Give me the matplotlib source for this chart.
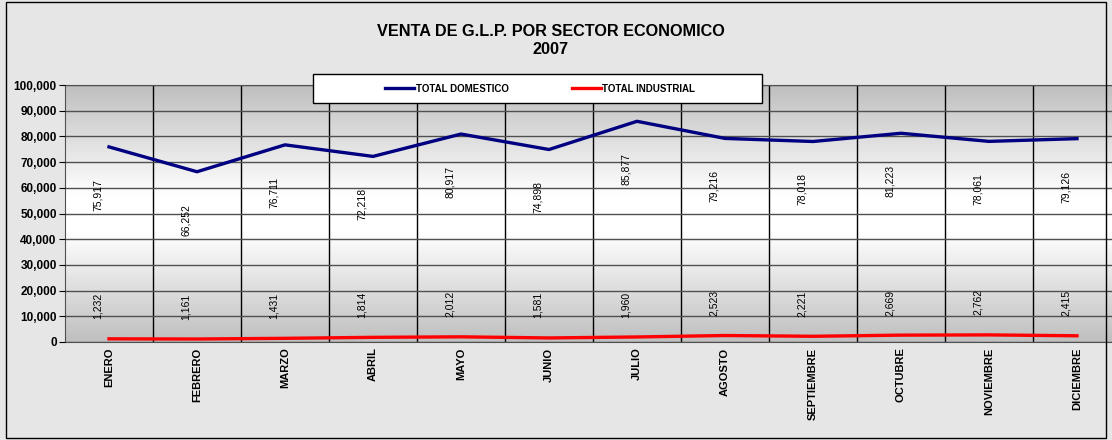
import matplotlib
matplotlib.use('Agg')
import matplotlib.pyplot as plt
import numpy as np
from matplotlib.patches import Rectangle

plt.rcParams['font.family'] = ['Liberation Sans', 'DejaVu Sans']

meses = ["ENERO", "FEBRERO", "MARZO", "ABRIL", "MAYO", "JUNIO", "JULIO",
         "AGOSTO", "SEPTIEMBRE", "OCTUBRE", "NOVIEMBRE", "DICIEMBRE"]
domestico = [75917, 66252, 76711, 72218, 80917, 74898, 85877,
             79216, 78018, 81223, 78061, 79126]
industrial = [1232, 1161, 1431, 1814, 2012, 1581, 1960,
              2523, 2221, 2669, 2762, 2415]

fig = plt.figure(figsize=(11.12, 4.4), dpi=100)
fig.patch.set_facecolor('#e6e6e6')
fig.patches.append(Rectangle((0.005, 0.005), 0.99, 0.99, transform=fig.transFigure,
                             fill=False, edgecolor='black', linewidth=1))

# plot area runs slightly past the right edge, as in the source
ax = fig.add_axes([65 / 1112, 1 - 342 / 440, 1056 / 1112, 257 / 440])

x = np.arange(len(meses))
ax.set_xlim(-0.5, len(meses) - 0.5)
ax.set_ylim(0, 100000)

# grey -> white -> grey background gradient
g = np.concatenate([np.linspace(0.75, 1.0, 50), np.linspace(1.0, 1.0, 15), np.linspace(1.0, 0.75, 50)])
ax.imshow(g[:, None], extent=[-0.5, len(meses) - 0.5, 0, 100000], aspect='auto',
          cmap='gray', vmin=0, vmax=1, origin='lower', zorder=0)

ax.set_yticks(range(0, 100001, 10000))
ax.set_yticklabels([f"{v:,}" for v in range(0, 100001, 10000)], fontsize=8.5, fontweight='bold')
ax.yaxis.grid(True, color='#505050', linewidth=1)
for b in np.arange(0.5, len(meses) - 0.5, 1):
    ax.axvline(b, color='black', linewidth=1, zorder=1)
ax.set_xticks(x)
ax.set_xticklabels(meses, rotation=90, fontsize=8, fontweight='bold', va='top')
ax.tick_params(axis='x', length=0, pad=4)
ax.tick_params(axis='y', length=4, pad=2)
ax.set_axisbelow(False)
for s in ax.spines.values():
    s.set_color('#505050')

ax.plot(x, domestico, color='#000080', linewidth=2.4, label='TOTAL DOMESTICO', zorder=3)
ax.plot(x, industrial, color='#ff0000', linewidth=2.4, label='TOTAL INDUSTRIAL', zorder=3)

for xi, v in zip(x, domestico):
    ax.annotate(f"{v:,}", (xi, v), xytext=(-8, -23), textcoords='offset points',
                rotation=90, ha='center', va='top', fontsize=7.5, zorder=4)
for xi, v in zip(x, industrial):
    ax.annotate(f"{v:,}", (xi, v), xytext=(-8, 14), textcoords='offset points',
                rotation=90, ha='center', va='bottom', fontsize=7.5, zorder=4)

# legend box, wider than the entries
fig.patches.append(Rectangle((313 / 1112, 1 - 103 / 440), 449 / 1112, 29 / 440,
                             transform=fig.transFigure, facecolor='white',
                             edgecolor='black', linewidth=1, zorder=5))
leg = fig.legend(loc='center', bbox_to_anchor=(540 / 1112, 1 - 88.5 / 440), ncol=2,
                 frameon=False, prop={'size': 7, 'weight': 'bold'},
                 handlelength=3.0, handletextpad=0.15, columnspacing=6.5)
leg.set_zorder(6)

fig.text(551 / 1112, 1 - 31 / 440, "VENTA DE G.L.P. POR SECTOR ECONOMICO",
         ha='center', va='center', fontsize=11.7, fontweight='bold')
fig.text(551 / 1112, 1 - 49 / 440, "2007", ha='center', va='center',
         fontsize=11.7, fontweight='bold')

fig.savefig('out.png', dpi=100)
